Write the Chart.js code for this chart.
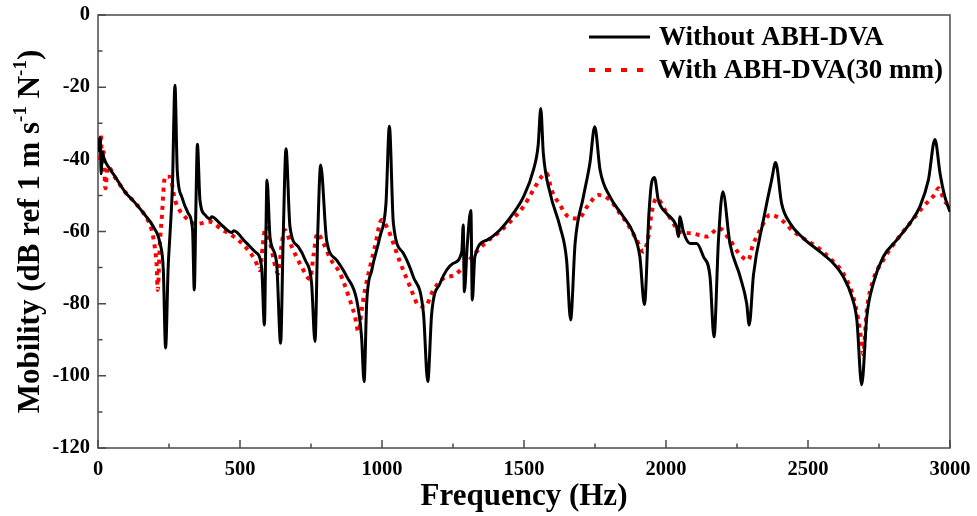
<!DOCTYPE html>
<html>
<head>
<meta charset="utf-8">
<script src="https://cdn.jsdelivr.net/npm/chart.js@4.4.1/dist/chart.umd.min.js"></script>
<style>
  html, body { margin: 0; padding: 0; background: #fff; }
  #wrap { width: 977px; height: 516px; }
</style>
</head>
<body>
<div id="wrap"><canvas id="mobChart" width="977" height="516"></canvas></div>
<script>
// Without ABH-DVA (black, solid)
const blackFreq = [0, 4, 8, 11, 15, 22, 36, 60, 95, 130, 165, 195, 218, 230, 238, 247, 253, 262, 271, 279,
  295, 318, 333, 339, 345, 350, 359, 377, 395, 400, 435, 471, 478, 518, 553, 576, 586, 591, 595, 606,
  629, 643, 652, 662, 676, 705, 730, 752, 764, 774, 784, 805, 840, 876, 911, 928, 937, 946, 964, 993,
  1014, 1026, 1040, 1075, 1110, 1146, 1161, 1175, 1204, 1251, 1281, 1286, 1290, 1300, 1313, 1318, 1327, 1369, 1415, 1462,
  1498, 1533, 1550, 1559, 1568, 1592, 1627, 1650, 1664, 1680, 1709, 1732, 1749, 1768, 1803, 1850, 1885, 1908, 1924, 1940,
  1949, 1959, 1973, 2002, 2037, 2044, 2049, 2061, 2085, 2108, 2132, 2155, 2169, 2185, 2200, 2225, 2261, 2284, 2293, 2308,
  2343, 2372, 2386, 2407, 2437, 2484, 2542, 2589, 2624, 2654, 2672, 2689, 2707, 2730, 2765, 2812, 2859, 2894, 2924, 2947,
  2965, 2982, 3000];
const blackMob = [-38, -35, -34, -44, -38, -40, -42, -44.8, -49, -52, -55.4, -58.7, -63.2, -70.7, -92.3, -70, -61.4, -47.6, -19.5, -43,
  -50.4, -55, -59.6, -76.2, -52, -35.8, -51.3, -55.4, -56.5, -55.9, -58.2, -60.3, -59.8, -62.8, -65.6, -69.8, -85.9, -62, -45.7, -61.8,
  -68.8, -91, -62, -37.1, -58.7, -64.2, -68, -74.3, -90.5, -60, -41.6, -62.4, -67.9, -72.5, -79, -89.2, -101.6, -79.9, -70.7, -61.4,
  -52.2, -30.8, -57.7, -66, -72.5, -82.7, -101.6, -82.7, -74.4, -68.8, -65.6, -58.2, -76.7, -64, -54.2, -79, -67, -62.4, -59.6, -55,
  -50.4, -43, -36, -25.9, -38.3, -49.4, -58.7, -67.9, -84.5, -63.2, -50.4, -41.1, -31, -43, -50.4, -55.9, -60.5, -67, -80.2, -55,
  -46.6, -45, -51.3, -55, -58.7, -61.4, -55.9, -60, -63.3, -63.3, -67, -72.5, -89.2, -62, -49, -63.3, -72.5, -79.9, -85.9, -72,
  -56.8, -45.7, -40.9, -52.2, -57.7, -61.9, -65.6, -68.8, -72.5, -78, -84.5, -102.5, -83.6, -74.4, -67, -62.4, -57.7, -53.1, -45.7, -34.5,
  -43.9, -50.4, -54.5];

// With ABH-DVA (30 mm) (red, dotted)
const redFreq = [0, 6, 10, 14, 20, 26, 34, 60, 95, 130, 165, 189, 201, 207, 210, 218, 224, 236, 253, 271,
  306, 347, 394, 435, 476, 518, 553, 570, 580, 590, 606, 635, 646, 658, 682, 717, 746, 760, 772, 794,
  817, 852, 887, 905, 917, 928, 940, 958, 975, 999, 1022, 1040, 1063, 1099, 1128, 1151, 1181, 1216, 1257, 1292,
  1333, 1369, 1415, 1451, 1498, 1533, 1562, 1580, 1597, 1627, 1656, 1691, 1726, 1762, 1803, 1838, 1867, 1897, 1920, 1938,
  1949, 1967, 1996, 2026, 2044, 2090, 2143, 2187, 2225, 2261, 2290, 2305, 2331, 2366, 2401, 2443, 2484, 2530, 2577, 2624,
  2659, 2677, 2689, 2694, 2707, 2730, 2765, 2812, 2859, 2906, 2949, 2959, 2982, 3000];
const redMob = [-40, -37, -33, -41, -38, -48, -42, -45, -49, -52, -55.5, -59.6, -65, -70, -76.2, -63, -56.8, -44.8, -44.8, -51.3,
  -55.9, -57.9, -57.3, -59.4, -61.3, -64.2, -67.9, -70.7, -64, -58.7, -63.3, -71.6, -64, -59.6, -64.2, -69.8, -73.2, -66, -60.5, -63.3,
  -67.4, -71.6, -79, -83.6, -87.8, -82, -76.2, -69.8, -64.2, -56.8, -59.6, -63.3, -68.4, -75.3, -80.4, -80.8, -76.2, -73, -72, -69.3,
  -65.6, -62.8, -60, -57.3, -53.1, -48.5, -44.8, -43.9, -48.5, -52.7, -55.9, -56.4, -52.7, -49.9, -51.3, -55, -58.2, -62.4, -65.6, -61.4,
  -55, -50.8, -54, -57.7, -60, -60.5, -61.4, -59.1, -62.4, -66.5, -67.9, -64, -59.6, -55.4, -56.4, -59.6, -61.9, -64.2, -67.4, -71.6,
  -78, -84.5, -91, -94, -81.8, -73.4, -67.9, -62.4, -57.7, -53.1, -49.4, -48, -51.7, -53];

const seriesNames = ["Without ABH-DVA", "With ABH-DVA(30 mm)"];
const xTicks = [0, 500, 1000, 1500, 2000, 2500, 3000];
const yTicks = [0, -20, -40, -60, -80, -100, -120];

const serif = "'Liberation Serif', 'Times New Roman', serif";

function toPoints(xs, ys) {
  return xs.map((x, i) => ({ x: x, y: ys[i] }));
}

// frame + inward tick marks
const frameTicks = {
  id: 'frameTicks',
  beforeDatasetsDraw(chart) {
    const { ctx, chartArea: a, scales } = chart;
    ctx.save();
    ctx.strokeStyle = '#4a4a4a';
    ctx.lineWidth = 1.5;
    ctx.strokeRect(a.left, a.top, a.right - a.left, a.bottom - a.top);
    ctx.beginPath();
    for (let v = 0; v <= 3000; v += 250) {
      const px = scales.x.getPixelForValue(v);
      const len = (v % 500 === 0) ? 8 : 4.5;
      ctx.moveTo(px, a.bottom);
      ctx.lineTo(px, a.bottom - len);
    }
    for (let v = -120; v <= 0; v += 10) {
      const py = scales.y.getPixelForValue(v);
      const len = (v % 20 === 0) ? 8 : 4.5;
      ctx.moveTo(a.left, py);
      ctx.lineTo(a.left + len, py);
    }
    ctx.stroke();
    ctx.restore();
  }
};

// legend drawn inside the plot, top right
const innerLegend = {
  id: 'innerLegend',
  afterDatasetsDraw(chart) {
    const { ctx, chartArea: a } = chart;
    const x0 = a.right - 361, x1 = a.right - 300, tx = a.right - 291;
    const rows = [a.top + 22, a.top + 55];
    const dashes = [[], [6, 10]];
    ctx.save();
    ctx.font = "bold 27px " + serif;
    ctx.textBaseline = 'middle';
    ctx.fillStyle = '#000';
    chart.data.datasets.forEach((ds, i) => {
      ctx.strokeStyle = ds.borderColor;
      ctx.lineWidth = ds.borderWidth;
      ctx.setLineDash(dashes[i]);
      ctx.beginPath();
      ctx.moveTo(x0, rows[i]);
      ctx.lineTo(x1, rows[i]);
      ctx.stroke();
      ctx.setLineDash([]);
      ctx.fillText(ds.label, tx, rows[i] + 1);
    });
    ctx.restore();
  }
};

// y title with superscripts
const yTitle = {
  id: 'yTitle',
  afterDraw(chart) {
    const { ctx, chartArea: a } = chart;
    const parts = [
      ["Mobility (dB ref 1 m s", false], ["-1", true], [" N", false], ["-1", true], [")", false]
    ];
    const mainFont = "bold 31px " + serif;
    const supFont = "bold 19px " + serif;
    ctx.save();
    let total = 0;
    parts.forEach(p => { ctx.font = p[1] ? supFont : mainFont; total += ctx.measureText(p[0]).width; });
    ctx.translate(31, (a.top + a.bottom) / 2);
    ctx.rotate(-Math.PI / 2);
    ctx.fillStyle = '#000';
    ctx.textBaseline = 'middle';
    let x = -total / 2;
    parts.forEach(p => {
      ctx.font = p[1] ? supFont : mainFont;
      ctx.fillText(p[0], x, p[1] ? -10 : 0);
      x += ctx.measureText(p[0]).width;
    });
    ctx.restore();
  }
};

const ctx = document.getElementById("mobChart").getContext("2d");
const mobChart = new Chart(ctx, {
  type: "line",
  data: {
    datasets: [
      {
        label: seriesNames[0],
        data: toPoints(blackFreq, blackMob),
        borderColor: "#000000",
        borderWidth: 3,
        pointRadius: 0,
        cubicInterpolationMode: 'monotone',
        fill: false
      },
      {
        label: seriesNames[1],
        data: toPoints(redFreq, redMob),
        borderColor: "#ff0000",
        borderWidth: 4,
        borderDash: [4, 5],
        pointRadius: 0,
        cubicInterpolationMode: 'monotone',
        fill: false
      }
    ]
  },
  options: {
    responsive: false,
    animation: false,
    devicePixelRatio: 1,
    layout: { padding: { top: 15, right: 27, left: 0, bottom: 0 } },
    plugins: {
      legend: { display: false },
      tooltip: { enabled: false }
    },
    scales: {
      x: {
        type: 'linear',
        min: 0,
        max: 3000,
        afterBuildTicks: s => { s.ticks = xTicks.map(v => ({ value: v })); },
        afterFit: s => { s.height = 68; s.paddingLeft = 0; s.paddingRight = 0; },
        grid: { display: false, drawTicks: false },
        border: { display: false },
        ticks: {
          padding: 9,
          color: '#000',
          maxRotation: 0,
          callback: v => String(v),
          font: { family: serif, size: 20.5, weight: 'bold' }
        },
        title: {
          display: true,
          text: 'Frequency (Hz)',
          color: '#000',
          padding: { top: 0, bottom: 0 },
          font: { family: serif, size: 31, weight: 'bold' }
        }
      },
      y: {
        min: -120,
        max: 0,
        afterBuildTicks: s => { s.ticks = yTicks.map(v => ({ value: v })); },
        afterFit: s => { s.width = 98; s.paddingTop = 0; s.paddingBottom = 0; },
        grid: { display: false, drawTicks: false },
        border: { display: false },
        ticks: {
          padding: 8,
          color: '#000',
          callback: v => String(v),
          font: { family: serif, size: 20.5, weight: 'bold' }
        }
      }
    }
  },
  plugins: [frameTicks, innerLegend, yTitle]
});
</script>
</body>
</html>
